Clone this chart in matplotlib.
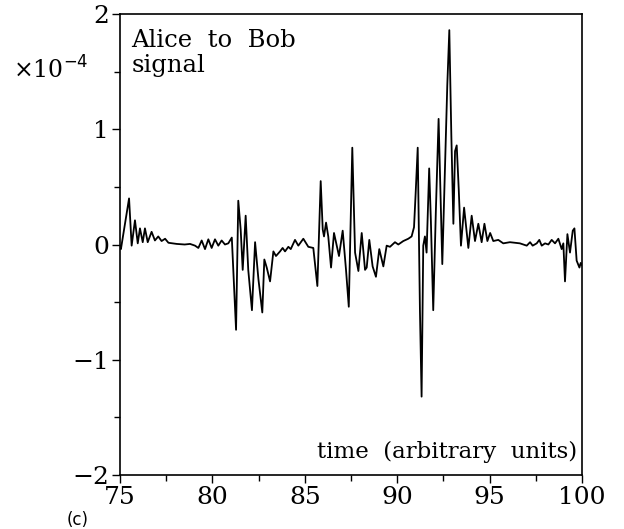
import matplotlib
matplotlib.use("Agg")
import matplotlib.pyplot as plt
from matplotlib.ticker import MultipleLocator

# time (arbitrary units) and signal (x 1e-4)
t = [75.0, 75.05, 75.49, 75.63, 75.81, 75.96, 76.08, 76.23, 76.35, 76.50, 76.71, 76.89,
     77.07, 77.25, 77.44, 77.62, 78.07, 78.5, 78.79, 79.06, 79.24, 79.42, 79.6, 79.78,
     79.96, 80.14, 80.32, 80.5, 80.68, 80.86, 81.05, 81.28, 81.4, 81.53, 81.64, 81.8,
     81.94, 82.14, 82.31, 82.49, 82.7, 82.81, 82.94, 83.12, 83.3, 83.44, 83.66, 83.8,
     83.93, 84.11, 84.24, 84.47, 84.65, 84.92, 85.19, 85.46, 85.68, 85.86, 85.97, 86.04,
     86.15, 86.27, 86.42, 86.58, 86.73, 86.85, 87.05, 87.23, 87.38, 87.57, 87.72, 87.9,
     88.08, 88.26, 88.35, 88.49, 88.67, 88.85, 89.03, 89.25, 89.43, 89.61, 89.88, 90.06,
     90.33, 90.6, 90.78, 90.91, 91.0, 91.11, 91.23, 91.32, 91.41, 91.5, 91.59, 91.73,
     91.82, 91.95, 92.09, 92.24, 92.44, 92.58, 92.71, 92.82, 92.93, 93.04, 93.13, 93.22,
     93.33, 93.45, 93.62, 93.85, 94.03, 94.21, 94.39, 94.57, 94.72, 94.88, 95.03, 95.2,
     95.47, 95.74, 96.1, 96.64, 97.01, 97.19, 97.33, 97.55, 97.69, 97.82, 98.0, 98.18,
     98.36, 98.54, 98.72, 98.9, 98.99, 99.08, 99.21, 99.35, 99.5, 99.59, 99.71, 99.86,
     99.93, 100.0]
signal = [-0.01, -0.04, 0.40, -0.01, 0.21, 0.01, 0.14, 0.02, 0.14, 0.02, 0.11, 0.035,
          0.07, 0.03, 0.05, 0.015, 0.005, 0.0, 0.005, -0.01, -0.03, 0.035, -0.04, 0.045,
          -0.03, 0.045, -0.01, 0.035, 0.0, 0.01, 0.06, -0.74, 0.38, 0.13, -0.22, 0.25,
          -0.22, -0.57, 0.02, -0.30, -0.59, -0.13, -0.20, -0.32, -0.06, -0.10, -0.06, -0.03,
          -0.06, -0.02, -0.04, 0.04, -0.01, 0.05, -0.02, -0.03, -0.36, 0.55, 0.13, 0.07,
          0.19, 0.07, -0.20, 0.10, -0.01, -0.10, 0.12, -0.22, -0.54, 0.84, -0.07, -0.23,
          0.10, -0.22, -0.20, 0.04, -0.19, -0.28, -0.04, -0.19, -0.01, -0.02, 0.02, 0.0,
          0.03, 0.05, 0.07, 0.15, 0.45, 0.84, -0.57, -1.32, -0.01, 0.07, -0.07, 0.66,
          0.22, -0.57, 0.28, 1.09, -0.17, 0.65, 1.38, 1.86, 0.94, 0.18, 0.81, 0.86,
          0.48, -0.01, 0.32, -0.03, 0.25, 0.03, 0.18, 0.02, 0.18, 0.03, 0.10, 0.03,
          0.04, 0.01, 0.02, 0.01, -0.01, 0.02, -0.01, 0.01, 0.04, -0.01, 0.01, 0.0,
          0.04, 0.01, 0.05, -0.04, 0.01, -0.32, 0.09, -0.07, 0.12, 0.14, -0.14, -0.20,
          -0.16, -0.18]

xticks = [75, 80, 85, 90, 95, 100]
yticks = [-2, -1, 0, 1, 2]
ytick_labels = ["\u22122", "\u22121", "0", "1", "2"]

plt.rcParams['font.family'] = ['DejaVu Serif']

fig = plt.figure(figsize=(6.24, 5.29), dpi=100)
ax = fig.add_axes([120/624, 54/529, 462/624, 461/529])
ax.plot(t, signal, color='black', lw=1.3)

ax.set_xlim(75, 100)
ax.set_ylim(-2, 2)
ax.set_xticks(xticks)
ax.set_xticklabels([str(v) for v in xticks])
ax.set_yticks(yticks)
ax.set_yticklabels(ytick_labels)
ax.xaxis.set_minor_locator(MultipleLocator(2.5))
ax.yaxis.set_minor_locator(MultipleLocator(0.5))
ax.tick_params(which='major', direction='out', length=6, width=1.0, labelsize=18, pad=2)
ax.tick_params(which='minor', direction='out', length=4.5, width=1.0)
for s in ax.spines.values():
    s.set_linewidth(1.2)

ax.text(0.025, 0.968, "Alice  to  Bob\nsignal", transform=ax.transAxes,
        ha='left', va='top', fontsize=17.5, linespacing=1.12)
ax.text(0.99, 0.025, "time  (arbitrary  units)", transform=ax.transAxes,
        ha='right', va='bottom', fontsize=16.5)
fig.text(88/624, 1 - 70/529, "\u00d710$^{-4}$", ha='right', va='center', fontsize=17)
fig.text(78/624, 1 - 520/529, "(c)", ha='center', va='center', fontsize=12,
         family='DejaVu Sans')

fig.savefig("out.png", dpi=100)
